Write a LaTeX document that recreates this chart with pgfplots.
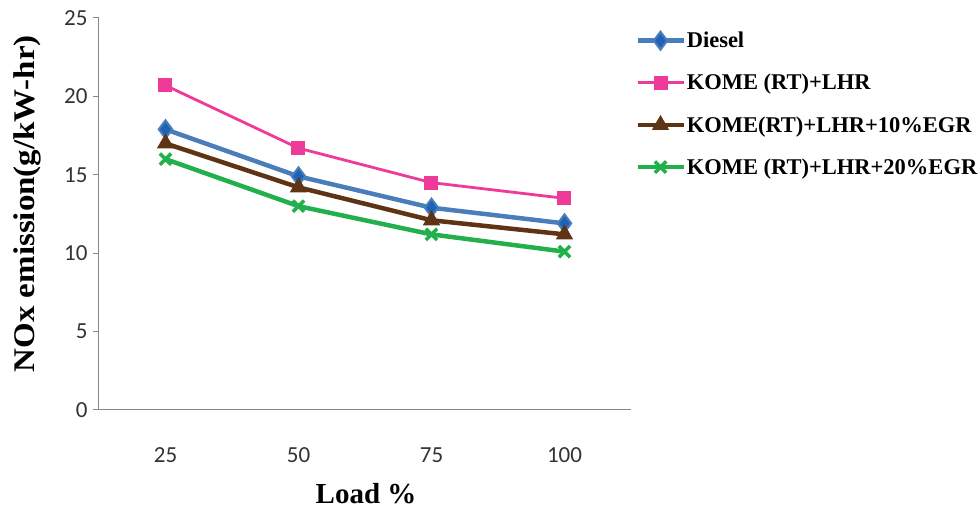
\documentclass[border=0pt]{standalone}
\usepackage{pgfplots}
\pgfplotsset{compat=1.18}
\usepackage{fontspec}
\usepackage{graphicx}
\setmainfont{Liberation Serif}
\newfontfamily\calibri{Carlito}

\definecolor{cdiesel}{HTML}{4A7EBB}
\definecolor{cdieselmk}{HTML}{1F64B4}
\definecolor{ckome}{HTML}{EE3A98}
\definecolor{ckomeA}{HTML}{5E3414}
\definecolor{ckomeB}{HTML}{22B04C}
\definecolor{caxis}{HTML}{878787}

\begin{document}
\begin{tikzpicture}
\useasboundingbox (-99pt,-101pt) rectangle (879pt,410pt);
\begin{axis}[
  scale only axis,
  width=532pt, height=392pt,
  anchor=south west, at={(0pt,0pt)},
  xmin=0.5, xmax=4.5,
  ymin=0, ymax=25,
  xtick={1,2,3,4},
  xticklabels={25,50,75,100},
  ytick={0,5,10,15,20,25},
  axis lines*=left,
  axis line style={caxis, line width=1pt},
  x tick style={draw=none},
  y tick style={caxis, line width=1pt},
  tick align=outside,
  major tick length=6pt,
  /pgf/number format/assume math mode=true,
  ticklabel style={font=\calibri\fontsize{23}{23}\selectfont, text=black!80},
  xticklabel style={yshift=-28pt},
  yticklabel style={xshift=-2pt},
  xlabel={\bfseries\fontsize{29}{29}\selectfont Load \%},
  xlabel style={at={(axis description cs:0.502,0)}, anchor=center, yshift=-84pt},
  ylabel={\scalebox{1.1}[1]{\bfseries\fontsize{30}{30}\selectfont NOx emission(g/kW-hr)}},
  ylabel style={at={(axis description cs:0,0.526)}, anchor=center, yshift=72pt},
  legend cell align=left,
  legend style={
    at={(1.002,0.972)}, anchor=north west,
    draw=none, fill=none,
    font=\bfseries\fontsize{22.5}{22.5}\selectfont,
    row sep=23pt,
    nodes={inner sep=1pt},
  },
  legend image code/.code={
    \draw[mark repeat=2,mark phase=2] plot coordinates {(0pt,0pt)(23pt,0pt)(46pt,0pt)};
  },
]
\addplot[cdiesel, line width=4.5pt, mark=diamond*, mark size=9pt,
  mark options={fill=cdieselmk, draw=cdiesel, line width=2pt}]
  coordinates {(1,17.9) (2,14.9) (3,12.9) (4,11.9)};
\addlegendentry{Diesel}
\addplot[ckome, line width=2.8pt, mark=square*, mark size=6.5pt,
  mark options={fill=ckome, draw=ckome, line width=1pt}]
  coordinates {(1,20.7) (2,16.7) (3,14.5) (4,13.5)};
\addlegendentry{KOME (RT)+LHR}
\addplot[ckomeA, line width=4.5pt, mark=triangle*, mark size=9pt,
  mark options={fill=ckomeA, draw=ckomeA, line width=1pt}]
  coordinates {(1,17.0) (2,14.2) (3,12.1) (4,11.2)};
\addlegendentry{KOME(RT)+LHR+10\%EGR}
\addplot[ckomeB, line width=4.5pt, mark=x, mark size=8pt,
  mark options={draw=ckomeB, line width=3.5pt}]
  coordinates {(1,16.0) (2,13.0) (3,11.2) (4,10.1)};
\addlegendentry{KOME (RT)+LHR+20\%EGR}
\end{axis}
\end{tikzpicture}
\end{document}
